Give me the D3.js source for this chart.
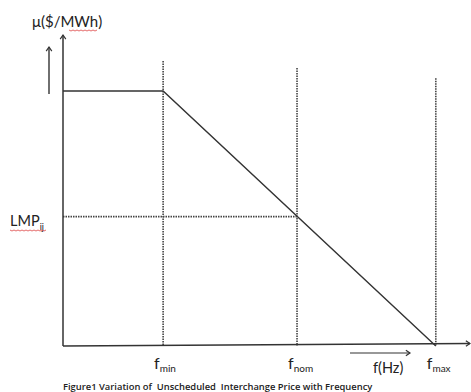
<!DOCTYPE html>
<html><head><meta charset="utf-8">
<script src="https://cdn.jsdelivr.net/npm/d3@7"></script>
<style>body{margin:0;background:#fff}svg{display:block}text{font-family:Lato,"Open Sans",sans-serif;fill:#222}</style>
</head><body><svg id="c" width="471" height="392"></svg>
<script>
// Notional units: frequency 0..100, price 0..100
const freqTicks = ["min", "nom", "max"];
const freqValues = [24.6, 57.5, 91.6];
const guideTops = [91.6, 89.4, 86.1];
const pricePlateau = 82;
const lmpValue = 41.6;
const curveF = [0, 24.6, 91.6];
const curveP = [82, 82, 0];
const yLabel = "μ($/MWh)";
const xLabel = "f(Hz)";
const caption = "Figure1 Variation of  Unscheduled  Interchange Price with Frequency";

const svg = d3.select("#c");
const x = d3.scaleLinear().domain([0, 100]).range([63, 470]);
const y = d3.scaleLinear().domain([0, 100]).range([346, 35]);

const ink = "#333";
freqValues.forEach((f, i) => {
  svg.append("line").attr("x1", x(f)).attr("x2", x(f))
    .attr("y1", y(guideTops[i])).attr("y2", y(0))
    .attr("stroke", "#444").attr("stroke-width", 1.6).attr("stroke-dasharray", "1.5,1");
});
svg.append("line").attr("x1", x(0)).attr("x2", x(freqValues[1]))
  .attr("y1", y(lmpValue)).attr("y2", y(lmpValue))
  .attr("stroke", "#444").attr("stroke-width", 1.6).attr("stroke-dasharray", "1.5,1");

const pts = curveF.map((f, i) => [x(f), y(curveP[i])]);
svg.append("path").attr("d", d3.line()(pts)).attr("fill", "none")
  .attr("stroke", ink).attr("stroke-width", 1.4);

function arrow(x1, y1, x2, y2, w) {
  svg.append("line").attr("x1", x1).attr("y1", y1).attr("x2", x2).attr("y2", y2)
    .attr("stroke", ink).attr("stroke-width", w || 1.5);
  const a = Math.atan2(y2 - y1, x2 - x1), L = 5;
  const p = [[x2 - L*Math.cos(a - 0.6), y2 - L*Math.sin(a - 0.6)], [x2, y2], [x2 - L*Math.cos(a + 0.6), y2 - L*Math.sin(a + 0.6)]];
  svg.append("path").attr("d", d3.line()(p)).attr("fill", "none").attr("stroke", ink).attr("stroke-width", 1.2);
}
arrow(x(0), y(0), x(0), y(100));
arrow(x(0), y(0), x(100), y(0.8));
arrow(49, 94, 49, 47, 1.4);
arrow(350, 353, 410, 353, 1.2);

svg.append("text").attr("x", 32).attr("y", 27).attr("font-size", 15).text(yLabel);
svg.append("path").attr("d", "M69,30 l2,1 l2,-1 l2,1 l2,-1 l2,1 l2,-1 l2,1 l2,-1 l2,1 l2,-1 l2,1 l2,-1 l2,1 l2,-1")
  .attr("fill", "none").attr("stroke", "#d44").attr("stroke-width", 0.8);

const lmp = svg.append("text").attr("x", 10).attr("y", 226).attr("font-size", 14.5);
lmp.append("tspan").text("LMP");
lmp.append("tspan").attr("dy", 4).attr("font-size", 9).text("ij");
svg.append("path").attr("d", "M10,230 l2,1 l2,-1 l2,1 l2,-1 l2,1 l2,-1 l2,1 l2,-1 l2,1 l2,-1 l2,1 l2,-1 l2,1 l2,-1 l2,1 l2,-1 l2,1 l2,-1")
  .attr("fill", "none").attr("stroke", "#d44").attr("stroke-width", 0.8);

freqValues.forEach((f, i) => {
  const t = svg.append("text").attr("x", x(f) - 9).attr("y", 369).attr("font-size", 16);
  t.append("tspan").text("f");
  t.append("tspan").attr("dy", 3).attr("font-size", 10).text(freqTicks[i]);
});
svg.append("text").attr("x", 373).attr("y", 373).attr("font-size", 14.5).text(xLabel);

svg.append("text").attr("x", 63).attr("y", 390).attr("font-size", 9.4).attr("font-weight", 600)
  .style("font-family", "'Open Sans', sans-serif")
  .style("white-space", "pre").text(caption);
</script></body></html>
